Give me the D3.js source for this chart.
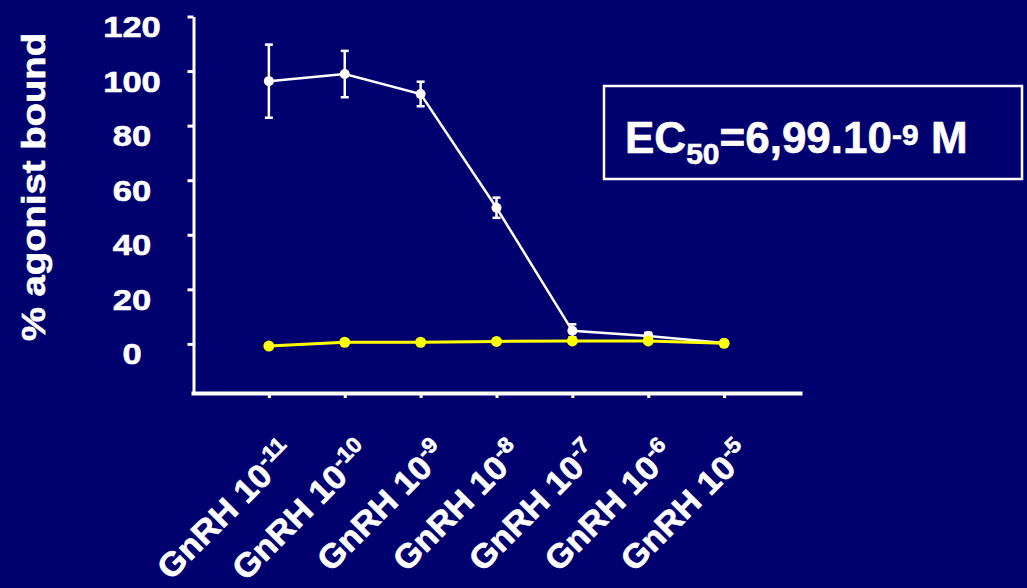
<!DOCTYPE html>
<html><head><meta charset="utf-8">
<script src="https://cdn.jsdelivr.net/npm/d3@7"></script>
<style>
html,body{margin:0;padding:0;background:#00006e;}
svg{display:block;}
text{font-family:"Liberation Sans",Arial,sans-serif;font-weight:bold;fill:#fff;stroke:#fff;stroke-width:0.6px;}
</style></head><body>
<svg id="chart" width="1027" height="588"></svg>
<script>
// ---- data ----
const doses = ["-11","-10","-9","-8","-7","-6","-5"];          // GnRH 10^x M
const agonistBound = [96.3, 98.9, 91.6, 49.9, 4.8, 2.9, 0.3];   // white series (%)
const agonistError = [13.4, 8.5, 4.5, 3.7, 2.4, 1.2, 0];        // +/- error
const controlBound = [-0.8, 0.6, 0.6, 0.9, 1.1, 1.1, 0.2];      // yellow series (%)
const yTickValues = [0, 20, 40, 60, 80, 100, 120];
const yTitle = "% agonist bound";
const labelPrefix = "GnRH 10";
const ec50Parts = ["EC", "50", "=6,99.10", "-9", " M"];

// ---- chart ----
const W = 1027, H = 588;
const svg = d3.select("#chart");
svg.append("rect").attr("width", W).attr("height", H).attr("fill", "#00006e");

const x = d3.scalePoint().domain(doses).range([193, 800]).padding(1);
const y = d3.scaleLinear().domain([-18, 120]).range([393, 16.5]);

// Y axis
const yAxis = svg.append("g").attr("transform", "translate(193.5,0)")
  .call(d3.axisLeft(y).tickValues(yTickValues).tickSize(6).tickSizeOuter(0));
yAxis.select(".domain").attr("stroke", "#fff").attr("stroke-width", 3);
yAxis.selectAll(".tick line").attr("stroke", "#fff").attr("stroke-width", 3);
yAxis.selectAll(".tick text")
  .attr("x", null).attr("dy", null)
  .attr("text-anchor", "middle").attr("font-size", 30)
  .attr("transform", "translate(-61.5,20) scale(1.15,1)");

// X axis
const xAxis = svg.append("g").attr("transform", "translate(0,393)")
  .call(d3.axisBottom(x).tickSize(5).tickSizeOuter(0).tickFormat(""));
xAxis.select(".domain").attr("stroke", "#fff").attr("stroke-width", 4).attr("stroke-linecap", "square");
xAxis.selectAll(".tick line").attr("stroke", "#fff").attr("stroke-width", 3);

// rotated x labels
const labels = svg.append("g").selectAll("text").data(doses).join("text")
  .attr("text-anchor", "end")
  .attr("font-size", 33)
  .attr("transform", d => `translate(${x(d) + 28},455) rotate(-45) scale(1.05,1)`);
labels.append("tspan").text(labelPrefix);
labels.append("tspan").attr("font-size", 22).attr("dy", -13).text(d => d);

// y title
svg.append("text")
  .attr("text-anchor", "middle").attr("font-size", 33)
  .attr("transform", "translate(45,187) rotate(-90) scale(1.16,1)")
  .text(yTitle);

// series
const line = d3.line().x((d, i) => x(doses[i])).y(d => y(d));

// white series + error bars
const eb = svg.append("g").attr("stroke", "#fff").attr("stroke-width", 2.5);
doses.forEach((d, i) => {
  const e = agonistError[i];
  if (e <= 0) return;
  const cx = x(d), top = y(agonistBound[i] + e), bot = y(agonistBound[i] - e);
  eb.append("line").attr("x1", cx).attr("x2", cx).attr("y1", top).attr("y2", bot);
  eb.append("line").attr("x1", cx - 4).attr("x2", cx + 4).attr("y1", top).attr("y2", top);
  eb.append("line").attr("x1", cx - 4).attr("x2", cx + 4).attr("y1", bot).attr("y2", bot);
});
svg.append("path").datum(agonistBound).attr("d", line)
  .attr("fill", "none").attr("stroke", "#fff").attr("stroke-width", 2.5);
svg.append("g").selectAll("circle").data(agonistBound).join("circle")
  .attr("cx", (d, i) => x(doses[i])).attr("cy", d => y(d)).attr("r", 5).attr("fill", "#fff");

// yellow series
svg.append("path").datum(controlBound).attr("d", line)
  .attr("fill", "none").attr("stroke", "#ffff00").attr("stroke-width", 3);
svg.append("g").selectAll("circle").data(controlBound).join("circle")
  .attr("cx", (d, i) => x(doses[i])).attr("cy", d => y(d)).attr("r", 5.5).attr("fill", "#ffff00");

// EC50 box
svg.append("rect").attr("x", 604).attr("y", 86).attr("width", 418).attr("height", 93)
  .attr("fill", "none").attr("stroke", "#fff").attr("stroke-width", 2.5);
const t = svg.append("text").attr("x", 625).attr("y", 153).attr("font-size", 44);
t.append("tspan").text(ec50Parts[0]);
t.append("tspan").attr("font-size", 30).attr("dy", 10.5).text(ec50Parts[1]);
t.append("tspan").attr("dy", -10.5).text(ec50Parts[2]);
t.append("tspan").attr("font-size", 30).attr("dy", -8).text(ec50Parts[3]);
t.append("tspan").attr("dy", 8).text(ec50Parts[4]);
</script>
</body></html>
